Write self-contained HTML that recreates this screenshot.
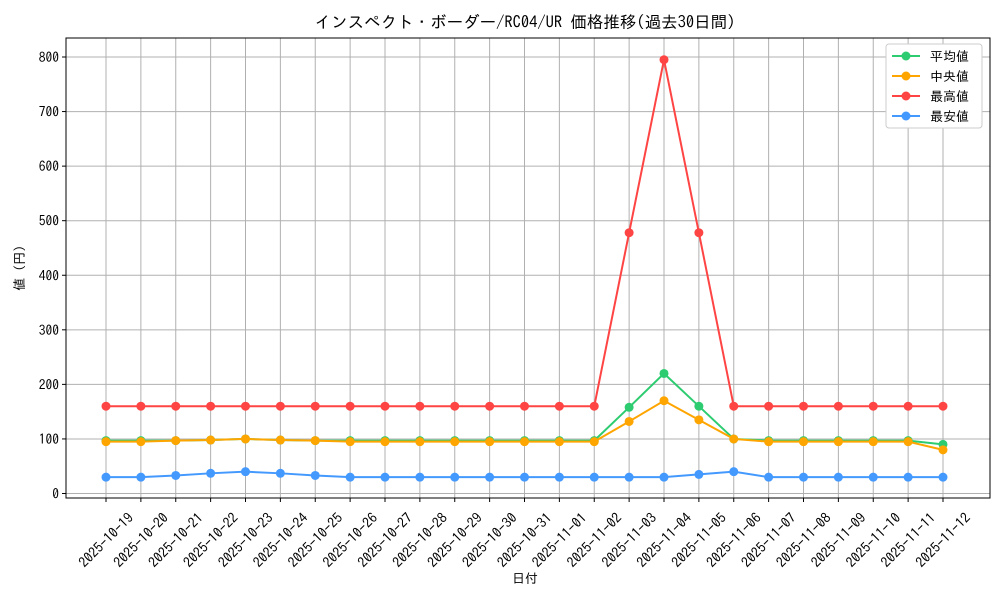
<!DOCTYPE html>
<html><head><meta charset="utf-8"><style>body{margin:0;background:#fff}svg{display:block;font-family:"IPAGothic","Noto Sans CJK JP",monospace}</style></head>
<body>
<svg id="c" width="1000" height="600"></svg>
<script>
const categories=["2025-10-19","2025-10-20","2025-10-21","2025-10-22","2025-10-23","2025-10-24","2025-10-25","2025-10-26","2025-10-27","2025-10-28","2025-10-29","2025-10-30","2025-10-31","2025-11-01","2025-11-02","2025-11-03","2025-11-04","2025-11-05","2025-11-06","2025-11-07","2025-11-08","2025-11-09","2025-11-10","2025-11-11","2025-11-12"];
const avgValues=[97,97,97,98,100,98,97,97,97,97,97,97,97,97,97,158,220,160,100,97,97,97,97,97,90];
const medianValues=[95,95,97,98,100,98,97,95,95,95,95,95,95,95,95,132,170,135,100,95,95,95,95,95,80];
const maxValues=[160,160,160,160,160,160,160,160,160,160,160,160,160,160,160,478,795,478,160,160,160,160,160,160,160];
const minValues=[30,30,33,37,40,37,33,30,30,30,30,30,30,30,30,30,30,35,40,30,30,30,30,30,30];
const yTicks=[0,100,200,300,400,500,600,700,800];
const seriesNames=["平均値","中央値","最高値","最安値"];
const L=66,R=990,T=38,B=498;
const x=i=>106+i*(943-106)/(categories.length-1);
const y=v=>493.5-v*(493.5-57)/800;
const svg=document.getElementById('c');const NS="http://www.w3.org/2000/svg";
function mk(t,a,p){const e=document.createElementNS(NS,t);for(const k in a)e.setAttribute(k,a[k]);(p||svg).appendChild(e);return e;}
let e;
e=mk('text',{x:525,y:28,'text-anchor':'middle','font-size':16.5});e.textContent="インスペクト・ボーダー/RC04/UR 価格推移(過去30日間)";


categories.forEach((c,i)=>{
 e=mk('line',{x1:x(i),x2:x(i),y1:T,y2:B,stroke:'#b0b0b0','stroke-width':1});
 
 
 mk('line',{x1:x(i),x2:x(i),y1:B,y2:B+4,stroke:'#000'});
 e=mk('text',{x:x(i),y:545,'font-size':14,'text-anchor':'middle',transform:`rotate(-45 ${x(i)} 540)`});e.textContent=c;
 
 
});
yTicks.forEach(v=>{
 e=mk('line',{x1:L,x2:R,y1:y(v),y2:y(v),stroke:'#b0b0b0','stroke-width':1});
 
 
 mk('line',{x1:L-4,x2:L,y1:y(v),y2:y(v),stroke:'#000'});
 e=mk('text',{x:L-7,y:y(v)+5,'font-size':13.5,'text-anchor':'end'});e.textContent=v;
 
 
});
e=mk('rect',{x:L,y:T,width:R-L,height:B-T,fill:'none',stroke:'#000','stroke-width':1});


e=mk('text',{x:525,y:583,'text-anchor':'middle','font-size':13});e.textContent="日付";


e=mk('text',{x:24,y:268,'text-anchor':'middle','font-size':13,transform:'rotate(-90 24 268)'});e.textContent="値 (円)";


const series=[[avgValues,'#2ecc71'],[medianValues,'#ffa500'],[maxValues,'#ff4444'],[minValues,'#4499ff']];
series.forEach(([vals,col],s)=>{
 e=mk('polyline',{points:vals.map((v,i)=>x(i)+','+y(v)).join(' '),fill:'none',stroke:col,'stroke-width':2});
 
 
 vals.forEach((v,i)=>{e=mk('circle',{cx:x(i),cy:y(v),r:4.5,fill:col});
  
  });
});
e=mk('rect',{x:886,y:44,width:96,height:84,rx:3,fill:'#fff',stroke:'#ccc'});


series.forEach(([v,col],s)=>{
 const yy=56+s*20;
 mk('line',{x1:892,x2:920,y1:yy,y2:yy,stroke:col,'stroke-width':2});
 mk('circle',{cx:906,cy:yy,r:4.5,fill:col});
 e=mk('text',{x:930,y:yy+5,'font-size':13});e.textContent=seriesNames[s];
 
 
});
</script>
</body></html>
